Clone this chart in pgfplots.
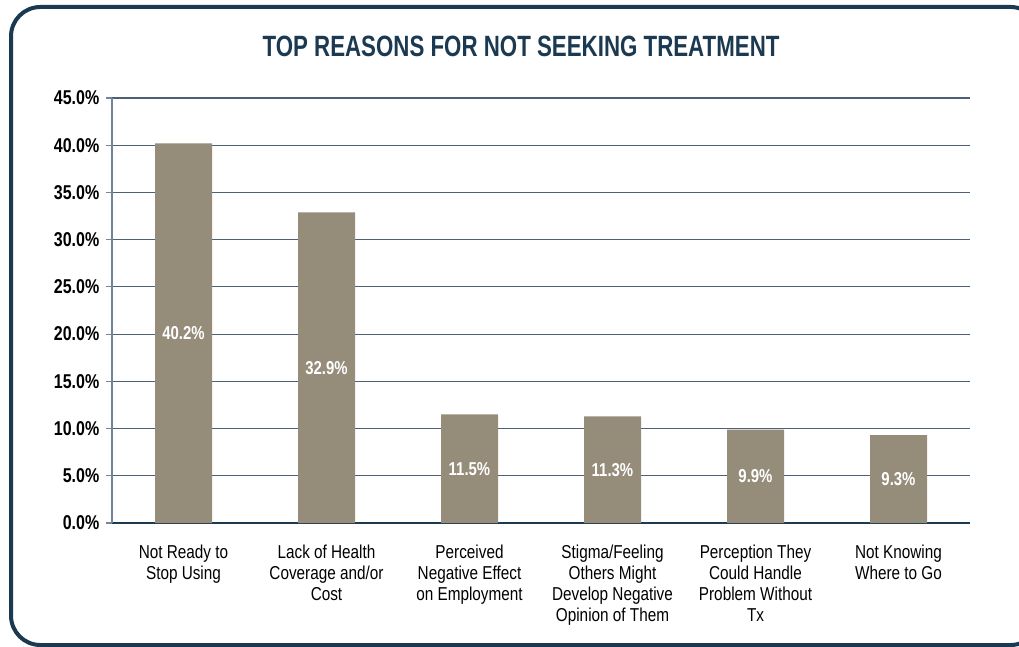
\documentclass[border=0pt]{standalone}
\usepackage{pgfplots}
\pgfplotsset{compat=1.18}
\usepackage{pgfplotstable}
\usepackage{fontspec}
\setmainfont{Liberation Sans}
\newfontfamily\narrowa[FakeStretch=0.82]{Liberation Sans}
\newfontfamily\narrowt[FakeStretch=0.76]{Liberation Sans}
\newfontfamily\narrowy[FakeStretch=0.80]{Liberation Sans}
\definecolor{navy}{HTML}{1B3A52}
\definecolor{gridc}{HTML}{4C6176}
\definecolor{yaxc}{HTML}{71849A}
\definecolor{barc}{HTML}{958C7A}
\pgfplotstableread{
x y
0 40.2
1 32.9
2 11.5
3 11.3
4 9.9
5 9.3
}\datatab
\begin{document}
\begin{tikzpicture}[x=0.75pt,y=0.75pt]
\useasboundingbox (0,0) rectangle (1019,646);
\draw[navy, line width=3pt, rounded corners=22pt] (11,1) rectangle (1040,639);
\node[anchor=base, text=navy, font=\narrowt\bfseries\fontsize{22}{26}\selectfont] at (521,589) {TOP REASONS FOR NOT SEEKING TREATMENT};
\coordinate (O) at (112,123);
\begin{axis}[
  at={(O)}, anchor=south west,
  scale only axis, width=643.5pt, height=318.75pt,
  xmin=-0.5, xmax=5.5, ymin=0, ymax=45,
  axis x line*=bottom, axis y line*=left,
  x axis line style={navy, line width=0.9pt, -},
  y axis line style={yaxc, line width=0.9pt, -},
  ytick={0,5,...,45},
  xtick={0,1,2,3,4,5},
  xticklabels={{Not Ready to\\Stop Using},{Lack of Health\\Coverage and/or\\Cost},{Perceived\\Negative Effect\\on Employment},{Stigma/Feeling\\Others Might\\Develop Negative\\Opinion of Them},{Perception They\\Could Handle\\Problem Without\\Tx},{Not Knowing\\Where to Go}},
  xticklabel style={align=center, anchor=north, yshift=-8.5pt, font=\narrowa\fontsize{14}{15.8}\selectfont},
  x tick style={draw=none},
  tick align=outside,
  major tick length=4.5pt,
  y tick style={yaxc, line width=0.9pt},
  /pgf/number format/assume math mode=true,
  yticklabel={\pgfmathprintnumber[fixed,fixed zerofill,precision=1]{\tick}\%},
  yticklabel style={font=\narrowy\bfseries\fontsize{15}{17}\selectfont, anchor=east, xshift=-1.5pt},
  ymajorgrids,
  grid style={gridc, line width=0.9pt},
  clip=false,
]
\addplot[ybar, bar width=42.75pt, fill=barc, draw=none] table[x=x,y=y] {\datatab};
\addplot[only marks, mark=none, point meta=explicit,
  nodes near coords={\pgfmathprintnumber[fixed,fixed zerofill,precision=1]{\pgfplotspointmeta}\%},
  nodes near coords style={anchor=center, text=white, font=\narrowy\bfseries\fontsize{14}{16}\selectfont}]
  table[x=x, y expr=\thisrow{y}/2, meta=y] {\datatab};
\end{axis}
\end{tikzpicture}
\end{document}
